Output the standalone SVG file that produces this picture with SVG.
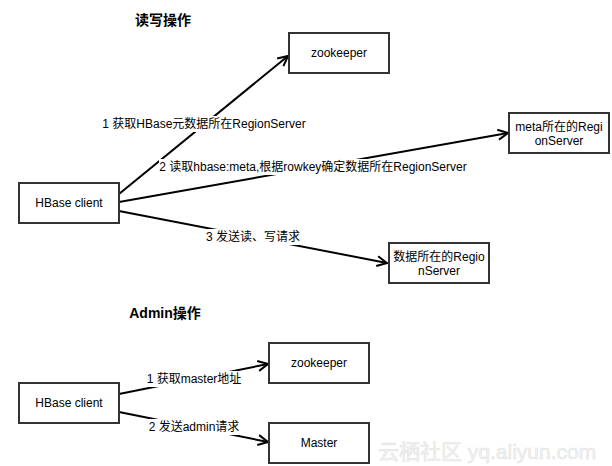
<svg xmlns="http://www.w3.org/2000/svg" width="612" height="466" viewBox="0 0 612 466">
<style>
.box{fill:#fff;stroke:#333;stroke-width:2}
.t{font-family:"Liberation Sans","Noto Sans CJK SC",sans-serif;font-size:12px;fill:#000;text-anchor:middle}
.h{font-family:"Liberation Sans","Noto Sans CJK SC",sans-serif;font-size:14px;font-weight:bold;fill:#000;text-anchor:middle}
.e{fill:none;stroke:#000;stroke-width:2}
.lb{fill:#fff}
</style>
<defs>
<marker id="arr" markerUnits="userSpaceOnUse" markerWidth="14" markerHeight="14" refX="11" refY="6" orient="auto" viewBox="0 0 14 12">
<path d="M1,1 L11,6 L1,11" fill="none" stroke="#000" stroke-width="2"/>
</marker>
</defs>
<rect width="612" height="466" fill="#fff"/>
<text class="h" x="163" y="25">读写操作</text>
<text class="h" x="165" y="318">Admin操作</text>
<g id="connectors">
<line class="e" x1="119" y1="194" x2="288" y2="56" marker-end="url(#arr)"/>
<line class="e" x1="119" y1="202" x2="508" y2="133" marker-end="url(#arr)"/>
<line class="e" x1="119" y1="211" x2="387" y2="263" marker-end="url(#arr)"/>
<line class="e" x1="119" y1="394" x2="268" y2="364" marker-end="url(#arr)"/>
<line class="e" x1="119" y1="412" x2="268" y2="442" marker-end="url(#arr)"/>
<rect class="lb" x="102" y="116" width="204" height="16"/>
<text class="t" x="204" y="128">1 获取HBase元数据所在RegionServer</text>
<rect class="lb" x="159" y="159" width="310" height="16"/>
<text class="t" x="313" y="171">2 读取hbase:meta,根据rowkey确定数据所在RegionServer</text>
<rect class="lb" x="205" y="229" width="96" height="16"/>
<text class="t" x="253" y="241">3 发送读、写请求</text>
<rect class="lb" x="147" y="371" width="95" height="16"/>
<text class="t" x="194" y="383">1 获取master地址</text>
<rect class="lb" x="147" y="419" width="94" height="16"/>
<text class="t" x="194" y="431">2 发送admin请求</text>
</g>
<g id="zk1"><rect class="box" x="289" y="33" width="100" height="40"/><text class="t" x="339" y="57">zookeeper</text></g>
<g id="meta"><rect class="box" x="509" y="113" width="100" height="40"/><text class="t" x="559" y="131">meta所在的Regi</text><text class="t" x="559" y="145">onServer</text></g>
<g id="client1"><rect class="box" x="19" y="183" width="100" height="40"/><text class="t" x="69" y="207">HBase client</text></g>
<g id="data"><rect class="box" x="389" y="243" width="100" height="40"/><text class="t" x="439" y="261">数据所在的Regio</text><text class="t" x="439" y="275">nServer</text></g>
<g id="zk2"><rect class="box" x="269" y="343" width="100" height="40"/><text class="t" x="319" y="367">zookeeper</text></g>
<g id="client2"><rect class="box" x="19" y="383" width="100" height="40"/><text class="t" x="69" y="407">HBase client</text></g>
<g id="master"><rect class="box" x="269" y="423" width="100" height="40"/><text class="t" x="319" y="447">Master</text></g>
<text x="378" y="459" font-family="Liberation Sans,Noto Sans CJK SC,sans-serif" font-size="21" fill="#f2f2f2" stroke="#e4e4e4" stroke-width="0.6">云栖社区 yq.aliyun.com</text>
</svg>
